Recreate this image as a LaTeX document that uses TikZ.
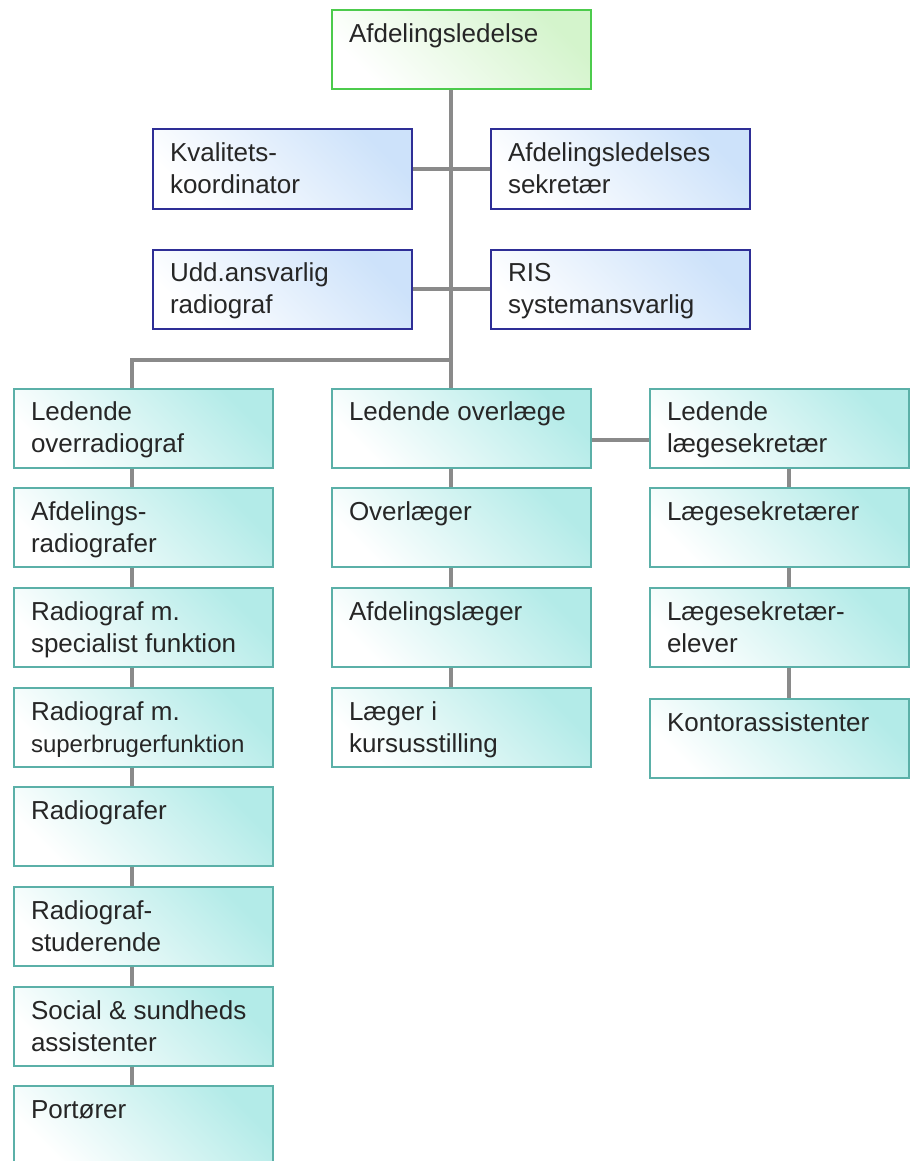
\documentclass[tikz,border=0pt]{standalone}
\usepackage{fontspec}
\setmainfont{Liberation Sans}
\usetikzlibrary{shapes,arrows}
\definecolor{tealline}{HTML}{5BB0A8}
\definecolor{tealfill}{HTML}{B3EBE8}
\definecolor{blueline}{HTML}{2E2E96}
\definecolor{bluefill}{HTML}{CDE2FA}
\definecolor{greenline}{HTML}{4CCB4C}
\definecolor{greenfill}{HTML}{D4F4CC}
\definecolor{linegray}{HTML}{8A8A8A}
\newcommand{\boxtext}[1]{\parbox[t][59pt][t]{225pt}{\strut #1}}
\tikzstyle{unit} = [rectangle, draw=tealline, line width=2pt, inner xsep=17pt, inner ysep=10pt,
    bottom color=white, top color=tealfill, shading angle=-45, text=black!85,
    font=\fontsize{26}{32}\selectfont]
\tikzstyle{staff} = [unit, draw=blueline, top color=bluefill, shading angle=-45]
\tikzstyle{head} = [unit, draw=greenline, top color=greenfill, shading angle=-45]
\tikzstyle{line} = [draw, line width=3.5pt, linegray]

\begin{document}
\begin{tikzpicture}[x=1pt, y=1pt, node distance=99.7pt]
    \useasboundingbox (0,0) rectangle (914,-1161);
    % Place nodes
    \node [head] (ledelse) at (461.5,-50) {\boxtext{Afdelingsledelse}};
    \node [staff] (kvalitet) at (282.5,-169) {\boxtext{Kvalitets-\\koordinator}};
    \node [staff] (sekretaer) at (620.5,-169) {\boxtext{Afdelingsledelses\\sekretær}};
    \node [staff, below of=kvalitet, node distance=120pt] (uddansvar) {\boxtext{Udd.ansvarlig\\radiograf}};
    \node [staff, below of=sekretaer, node distance=120pt] (ris) {\boxtext{RIS\\systemansvarlig}};
    % radiografer
    \node [unit] (overradio) at (143.5,-428) {\boxtext{Ledende\\overradiograf}};
    \node [unit, below of=overradio] (afdradio) {\boxtext{Afdelings-\\radiografer}};
    \node [unit, below of=afdradio] (specialist) {\boxtext{Radiograf m.\\specialist funktion}};
    \node [unit, below of=specialist] (superbruger) {\boxtext{Radiograf m.\\{\fontsize{24}{32}\selectfont superbrugerfunktion}}};
    \node [unit, below of=superbruger] (radiografer) {\boxtext{Radiografer}};
    \node [unit, below of=radiografer] (studerende) {\boxtext{Radiograf-\\studerende}};
    \node [unit, below of=studerende] (assistenter) {\boxtext{Social \& sundheds\\assistenter}};
    \node [unit, below of=assistenter] (portoerer) {\boxtext{Portører}};
    % laeger
    \node [unit, right of=overradio, node distance=318pt] (overlaege) {\boxtext{Ledende overlæge}};
    \node [unit, below of=overlaege] (overlaeger) {\boxtext{Overlæger}};
    \node [unit, below of=overlaeger] (afdlaeger) {\boxtext{Afdelingslæger}};
    \node [unit, below of=afdlaeger] (kursus) {\boxtext{Læger i\\kursusstilling}};
    % sekretaerer
    \node [unit, right of=overlaege, node distance=318pt] (lsekretaer) {\boxtext{Ledende\\lægesekretær}};
    \node [unit, below of=lsekretaer] (sekretaerer) {\boxtext{Lægesekretærer}};
    \node [unit, below of=sekretaerer] (elever) {\boxtext{Lægesekretær-\\elever}};
    \node [unit, below of=elever, node distance=111pt] (kontor) {\boxtext{Kontorassistenter}};
    \coordinate (trunk) at (451,0);
    \coordinate (leftline) at (132,0);
    \coordinate (rightline) at (789,0);
    \coordinate (split) at (451,-360);
    % Draw edges
    \path [line] (ledelse.south -| trunk) -- (overlaege.north -| trunk);
    \path [line] (kvalitet) -- (sekretaer);
    \path [line] (uddansvar) -- (ris);
    \path [line] (split) -| (overradio.north -| leftline);
    \path [line] ([yshift=-12pt]overlaege.east) -- ([yshift=-12pt]overlaege.east -| lsekretaer.west);
    \foreach \a/\b in {overradio/afdradio, afdradio/specialist, specialist/superbruger,
        superbruger/radiografer, radiografer/studerende, studerende/assistenter, assistenter/portoerer}
        \path [line] (\a.south -| leftline) -- (\b.north -| leftline);
    \foreach \a/\b in {overlaege/overlaeger, overlaeger/afdlaeger, afdlaeger/kursus}
        \path [line] (\a.south -| trunk) -- (\b.north -| trunk);
    \foreach \a/\b in {lsekretaer/sekretaerer, sekretaerer/elever, elever/kontor}
        \path [line] (\a.south -| rightline) -- (\b.north -| rightline);
\end{tikzpicture}
\end{document}
